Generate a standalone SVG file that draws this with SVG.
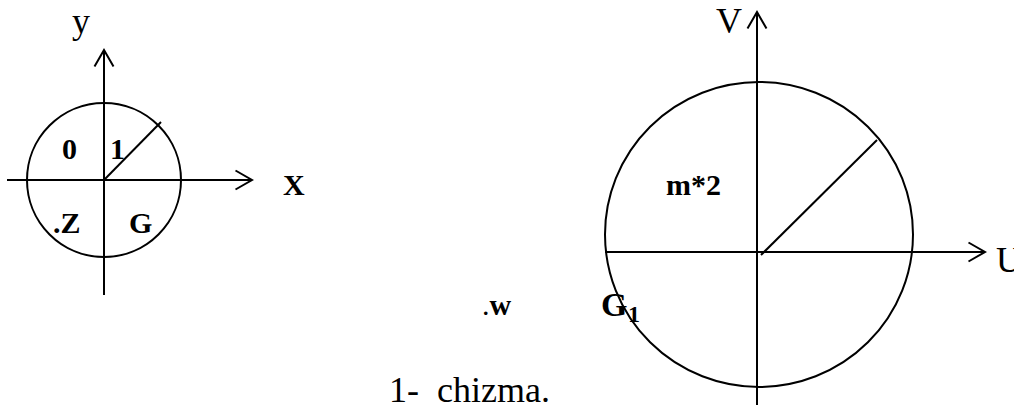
<svg xmlns="http://www.w3.org/2000/svg" width="1014" height="405" viewBox="0 0 1014 405">
  <style>
    .ln { stroke: #000; stroke-width: 2; fill: none; }
    .ax { stroke: #000; stroke-width: 2; fill: none; marker-end: url(#arr); }
    .b { font-family: "Liberation Serif", "Times New Roman", serif; font-weight: bold; font-size: 30px; fill: #000; }
    .r { font-family: "Liberation Serif", "Times New Roman", serif; font-size: 36px; fill: #000; }
  </style>
  <defs>
    <marker id="arr" viewBox="-20 -12 22 24" markerWidth="22" markerHeight="24" refX="0" refY="0" orient="auto" markerUnits="userSpaceOnUse">
      <path d="M-16.5,-9.5 L0,0 L-16.5,9.5" stroke="#000" stroke-width="2" fill="none"/>
    </marker>
  </defs>
  <rect width="1014" height="405" fill="#fff"/>

  <g id="left-diagram">
    <circle id="circle-g" class="ln" cx="104" cy="180" r="77"/>
    <g id="connectors-left">
      <line class="ax" x1="7" y1="180" x2="252" y2="180"/>
      <line class="ax" x1="104" y1="295" x2="104" y2="50"/>
      <line class="ln" x1="104" y1="180" x2="161" y2="122"/>
    </g>
    <text class="r" x="72" y="33">y</text>
    <text class="b" x="283" y="195">X</text>
    <text class="b" x="62" y="159">0</text>
    <text class="b" x="110" y="159">1</text>
    <text class="b" x="53" y="233">.Z</text>
    <text class="b" x="129" y="233">G</text>
  </g>

  <g id="right-diagram">
    <ellipse id="circle-g1" class="ln" cx="759" cy="234.5" rx="154" ry="152.5"/>
    <g id="connectors-right">
      <line class="ax" x1="605" y1="252" x2="985" y2="252"/>
      <line class="ax" x1="757" y1="405" x2="757" y2="12"/>
      <line class="ln" x1="761" y1="255" x2="877" y2="140"/>
    </g>
    <text class="r" x="716" y="33">V</text>
    <text class="r" x="996" y="272">U</text>
    <text class="b" x="666" y="195">m*2</text>
    <text class="b" x="601" y="316" style="font-size:34px">G</text>
    <text class="b" x="628" y="322" style="font-size:24px">1</text>
  </g>

  <text id="w-label" class="b" x="482" y="315"><tspan style="font-weight:normal">.</tspan>w</text>
  <text id="caption" class="r" x="389" y="402" xml:space="preserve">1-  chizma.</text>
</svg>
